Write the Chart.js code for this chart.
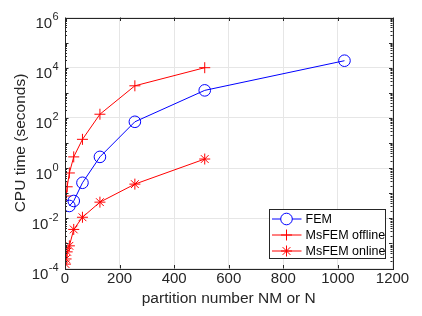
<!DOCTYPE html>
<html>
<head>
<meta charset="utf-8">
<script src="https://cdn.jsdelivr.net/npm/chart.js@4.4.0/dist/chart.umd.min.js"></script>
<style>
html,body{margin:0;padding:0;background:#fff;}
#wrap{width:422px;height:316px;}
</style>
</head>
<body>
<div id="wrap"><canvas id="c" width="422" height="316"></canvas></div>
<script>
// ---- data ----
const femN = [16, 32, 64, 128, 256, 512, 1024];
const femTime = [0.031, 0.049, 0.26, 2.8, 70, 1250, 19000];
const offlineN = [4, 8, 16, 32, 64, 128, 256, 512];
const offlineTime = [0.077, 0.18, 0.64, 2.8, 14, 140, 1900, 10000];
const onlineN = [2, 4, 8, 16, 32, 64, 128, 256, 512];
const onlineTime = [0.00015, 0.00024, 0.00046, 0.0008, 0.0036, 0.011, 0.044, 0.23, 2.3];
const seriesNames = ['FEM', 'MsFEM offline', 'MsFEM online'];
const xTicks = [0, 200, 400, 600, 800, 1000, 1200];
const yTicks = [1e-4, 1e-2, 1e0, 1e2, 1e4, 1e6];
const yExponents = ['-4', '-2', '0', '2', '4', '6'];

function pts(xs, ys){ return xs.map((x,i)=>({x:x, y:ys[i]})); }

const FONT = "'Liberation Sans', Arial, Helvetica, sans-serif";
const TXT = '#262626';
const RED = '#ff0000', BLUE = '#0000ff';

const styles = [
  {color: BLUE, pointStyle: 'circle', radius: 5.8},
  {color: RED, pointStyle: 'cross', radius: 5.5},
  {color: RED, pointStyle: 'star', radius: 5.5}
];

const frame = {
  id: 'frame',
  afterDatasetsDraw(chart){
    const ctx = chart.ctx, a = chart.chartArea;
    const xs = chart.scales.x, ys = chart.scales.y;
    ctx.save();
    ctx.strokeStyle = TXT;
    ctx.lineWidth = 1;
    ctx.strokeRect(Math.round(a.left)+0.5, Math.round(a.top)+0.5, Math.round(a.right-a.left), Math.round(a.bottom-a.top));
    const tl = 3.5;
    ctx.beginPath();
    xTicks.forEach(v => {
      const px = Math.round(xs.getPixelForValue(v)) + 0.5;
      ctx.moveTo(px, a.bottom); ctx.lineTo(px, a.bottom - tl);
      ctx.moveTo(px, a.top); ctx.lineTo(px, a.top + tl);
    });
    for (let e = -4; e < 6; e++) {
      for (let m = 1; m < 10; m++) {
        const v = m * Math.pow(10, e);
        const py = Math.round(ys.getPixelForValue(v)) + 0.5;
        const len = (m === 1) ? tl : 2;
        ctx.moveTo(a.left, py); ctx.lineTo(a.left + len, py);
        ctx.moveTo(a.right, py); ctx.lineTo(a.right - len, py);
      }
    }
    ctx.stroke();

    // y tick labels: 10 with raised exponent
    ctx.fillStyle = TXT;
    ctx.textBaseline = 'alphabetic';
    yTicks.forEach((v, i) => {
      const py = ys.getPixelForValue(v);
      ctx.font = '11px ' + FONT;
      ctx.textAlign = 'left';
      const ew = ctx.measureText(yExponents[i]).width;
      const ex = 58.5 - ew;
      ctx.fillText(yExponents[i], ex, py + 2.5);
      ctx.font = '15px ' + FONT;
      ctx.textAlign = 'right';
      ctx.fillText('10', ex - 0.3, py + 10.5);
    });

    // legend
    const lx = 269.5, ly = 209.5, lw = 116, lh = 49;
    ctx.fillStyle = '#ffffff';
    ctx.fillRect(lx, ly, lw, lh);
    ctx.strokeStyle = TXT;
    ctx.strokeRect(lx, ly, lw, lh);
    ctx.font = '12.5px ' + FONT;
    ctx.textBaseline = 'middle';
    ctx.textAlign = 'left';
    seriesNames.forEach((name, i) => {
      const y = ly + 9.5 + i * 16;
      const s = styles[i];
      ctx.strokeStyle = s.color;
      ctx.lineWidth = 1;
      ctx.beginPath();
      ctx.moveTo(lx + 2.5, y); ctx.lineTo(lx + 32, y);
      ctx.stroke();
      Chart.helpers.drawPoint(ctx, {pointStyle: s.pointStyle, radius: s.radius, rotation: 0, borderWidth: 1}, lx + 17, y);
      ctx.fillStyle = '#000000';
      ctx.fillText(name, lx + 36, y + 0.5);
    });
    ctx.restore();
  }
};

const datasets = [
  pts(femN, femTime), pts(offlineN, offlineTime), pts(onlineN, onlineTime)
].map((d, i) => ({
  label: seriesNames[i],
  data: d,
  borderColor: styles[i].color,
  backgroundColor: 'rgba(0,0,0,0)',
  pointBorderColor: styles[i].color,
  pointBackgroundColor: 'rgba(0,0,0,0)',
  pointStyle: styles[i].pointStyle,
  pointRadius: styles[i].radius,
  pointBorderWidth: 1,
  borderWidth: 1,
  tension: 0,
  showLine: true
}));

new Chart(document.getElementById('c'), {
  type: 'scatter',
  data: { datasets },
  options: {
    responsive: false,
    animation: false,
    devicePixelRatio: 1,
    layout: { padding: { left: 0, top: 17.5, right: 29.5, bottom: 0 } },
    plugins: { legend: { display: false }, tooltip: { enabled: false } },
    scales: {
      x: {
        type: 'linear', min: 0, max: 1200,
        afterFit(s){ s.height = 47.5; },
        afterBuildTicks(s){ s.ticks = xTicks.map(v => ({value: v})); },
        grid: { color: '#e6e6e6', drawTicks: false },
        border: { display: false },
        ticks: { color: TXT, font: { family: FONT, size: 15 }, padding: 1, maxRotation: 0, callback: (v) => String(v) },
        title: { display: true, text: 'partition number NM or N', color: TXT, font: { family: FONT, size: 15.5 }, padding: { top: 0, bottom: 8 } }
      },
      y: {
        type: 'logarithmic', min: 1e-4, max: 1e6,
        afterFit(s){ s.width = 65; },
        afterBuildTicks(s){ s.ticks = yTicks.map(v => ({value: v})); },
        grid: { color: '#e6e6e6', drawTicks: false },
        border: { display: false },
        ticks: { display: false },
        title: { display: true, text: 'CPU time (seconds)', color: TXT, font: { family: FONT, size: 15.5 }, padding: { top: 11, bottom: 0 } }
      }
    }
  },
  plugins: [frame]
});
</script>
</body>
</html>
